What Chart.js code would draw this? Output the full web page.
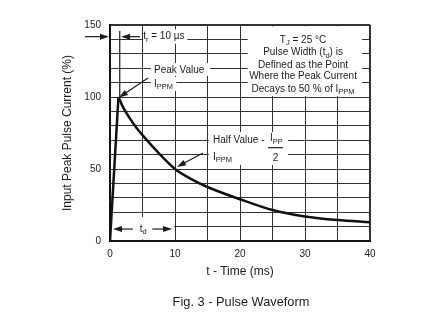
<!DOCTYPE html>
<html>
<head>
<meta charset="utf-8">
<script src="https://cdn.jsdelivr.net/npm/chart.js@4"></script>
<style>
  html, body { margin: 0; padding: 0; background: #fff; }
</style>
</head>
<body>
<canvas id="pulseChart" width="446" height="327"></canvas>
<script>
// rising edge, 0 -> peak
const riseTime = [0, 1.3];
const riseCurrent = [0, 100];
// decay after the peak (ms, % of IPPM)
const decayTime = [1.3, 2, 3, 4, 5, 7.5, 10, 12.5, 15, 20, 25, 30, 35, 40];
const decayCurrent = [100, 93, 85.5, 79, 73.5, 61, 50, 43, 37.5, 29, 21.5, 17, 14.5, 13];

const xTickLabels = [0, 10, 20, 30, 40];
const yTickLabels = [0, 50, 100, 150];

const FONT = '"Liberation Sans", Arial, sans-serif';
const INK = '#1c1c1c';

// draws text with subscripts; parts = [[text, isSub], ...]
function drawRich(ctx, parts, x, y, size, align) {
  const widths = parts.map(([t, sub]) => {
    ctx.font = (sub ? size * 0.75 : size) + 'px ' + FONT;
    return ctx.measureText(t).width;
  });
  const total = widths.reduce((a, b) => a + b, 0);
  let cx = align === 'center' ? x - total / 2 : (align === 'right' ? x - total : x);
  parts.forEach(([t, sub], i) => {
    ctx.font = (sub ? size * 0.75 : size) + 'px ' + FONT;
    ctx.fillText(t, cx, sub ? y + size * 0.32 : y);
    cx += widths[i];
  });
  return total;
}

function arrow(ctx, x1, y1, x2, y2) {
  const a = Math.atan2(y2 - y1, x2 - x1);
  const len = 9, half = 3;
  ctx.beginPath();
  ctx.moveTo(x1, y1);
  ctx.lineTo(x2 - Math.cos(a) * len * 0.8, y2 - Math.sin(a) * len * 0.8);
  ctx.stroke();
  ctx.beginPath();
  ctx.moveTo(x2, y2);
  ctx.lineTo(x2 - Math.cos(a) * len - Math.sin(a) * half, y2 - Math.sin(a) * len + Math.cos(a) * half);
  ctx.lineTo(x2 - Math.cos(a) * len + Math.sin(a) * half, y2 - Math.sin(a) * len - Math.cos(a) * half);
  ctx.closePath();
  ctx.fill();
}

// label areas that hide the grid, in data units [t0, t1, v0, v1]
const labelBoxes = [
  [21.2, 38.8, 100.7, 149],
  [5.1, 11.9, 137, 147],
  [6.3, 15.4, 114.6, 123.6],
  [6.3, 10.2, 104.2, 113.9],
  [15.2, 27.4, 52.8, 75.7],
  [0.3, 9.85, 1, 16.7]
];

const notesPlugin = {
  id: 'notes',
  beforeDatasetsDraw(chart) {
    const {ctx, scales: {x, y}} = chart;
    ctx.save();
    ctx.fillStyle = '#fff';
    labelBoxes.forEach(([t0, t1, v0, v1]) => {
      const l = x.getPixelForValue(t0), r = x.getPixelForValue(t1);
      const top = y.getPixelForValue(v1), bot = y.getPixelForValue(v0);
      ctx.fillRect(l, top, r - l, bot - top);
    });
    ctx.restore();
  },
  afterDatasetsDraw(chart) {
    const {ctx, scales: {x, y}} = chart;
    const px = t => x.getPixelForValue(t);
    const py = v => y.getPixelForValue(v);
    ctx.save();
    ctx.fillStyle = INK;
    ctx.strokeStyle = INK;
    ctx.lineWidth = 1.2;
    ctx.textBaseline = 'middle';

    // rise time marker
    arrow(ctx, px(-3.85), py(141.9), px(-0.15), py(141.9));
    ctx.beginPath();
    ctx.moveTo(px(1.5), py(145.8));
    ctx.lineTo(px(1.5), py(100));
    ctx.stroke();
    arrow(ctx, px(4.6), py(141.9), px(1.7), py(141.9));
    drawRich(ctx, [['t', false], ['r', true], [' = 10 µs', false]], px(5.1), py(141.9), 10, 'left');

    // peak value
    arrow(ctx, px(5.85), py(113.2), px(1.38), py(99.7));
    drawRich(ctx, [['Peak Value', false]], px(6.77), py(118.75), 10, 'left');
    drawRich(ctx, [['I', false], ['PPM', true]], px(6.77), py(109), 10, 'left');

    // conditions
    const cx = px(29.7);
    drawRich(ctx, [['T', false], ['J', true], [' = 25 °C', false]], cx, py(139.6), 10, 'center');
    drawRich(ctx, [['Pulse Width (t', false], ['d', true], [') is', false]], cx, py(131), 10, 'center');
    drawRich(ctx, [['Defined as the Point', false]], cx, py(122.2), 10, 'center');
    drawRich(ctx, [['Where the Peak Current', false]], cx, py(114.1), 10, 'center');
    drawRich(ctx, [['Decays to 50 % of I', false], ['PPM', true]], cx, py(105.5), 10, 'center');

    // half value
    arrow(ctx, px(14.3), py(61.1), px(10.3), py(51.4));
    drawRich(ctx, [['Half Value -', false]], px(15.85), py(70.1), 10, 'left');
    drawRich(ctx, [['I', false], ['PPM', true]], px(15.85), py(58.5), 10, 'left');
    drawRich(ctx, [['I', false], ['PP', true]], px(24.6), py(71.3), 10, 'left');
    ctx.beginPath();
    ctx.moveTo(px(24.3), py(64.8));
    ctx.lineTo(px(26.6), py(64.8));
    ctx.stroke();
    drawRich(ctx, [['2', false]], px(25.45), py(57.6), 10, 'center');

    // pulse width
    arrow(ctx, px(3.5), py(8.3), px(0.46), py(8.3));
    arrow(ctx, px(6.5), py(8.3), px(9.55), py(8.3));
    drawRich(ctx, [['t', false], ['d', true]], px(5.1), py(8.3), 10, 'center');

    // caption
    ctx.font = '12.8px ' + FONT;
    ctx.textAlign = 'center';
    ctx.fillText('Fig. 3 - Pulse Waveform', 241, 302);
    ctx.restore();
  }
};

const edge = (ctx, last) => (ctx.tick && (ctx.tick.value === last || ctx.tick.value === 0)) ? 2 : 1;

new Chart(document.getElementById('pulseChart'), {
  type: 'line',
  data: {
    datasets: [
      {
        data: riseTime.map((t, i) => ({x: t, y: riseCurrent[i]})),
        borderColor: '#111',
        borderWidth: 2.5,
        pointRadius: 0,
        tension: 0
      },
      {
        data: decayTime.map((t, i) => ({x: t, y: decayCurrent[i]})),
        borderColor: '#111',
        borderWidth: 2.5,
        pointRadius: 0,
        cubicInterpolationMode: 'monotone'
      }
    ]
  },
  options: {
    responsive: false,
    animation: false,
    events: [],
    layout: { padding: { left: 0, right: 76, top: 25, bottom: 46 } },
    plugins: { legend: { display: false }, tooltip: { enabled: false } },
    scales: {
      x: {
        type: 'linear',
        min: 0,
        max: 40,
        afterFit: s => { s.height = 40; },
        grid: { color: '#333', lineWidth: c => edge(c, 40), drawTicks: false },
        border: { color: '#111', width: 2 },
        ticks: {
          stepSize: 5,
          autoSkip: false,
          maxRotation: 0,
          padding: 7,
          color: INK,
          font: { family: FONT, size: 10 },
          callback: v => xTickLabels.includes(v) ? String(v) : ''
        },
        title: {
          display: true,
          text: 't - Time (ms)',
          color: INK,
          font: { family: FONT, size: 12 },
          padding: { top: 0, bottom: 2 }
        }
      },
      y: {
        min: 0,
        max: 150,
        afterFit: s => { s.width = 110; },
        grid: { color: '#333', lineWidth: c => edge(c, 150), drawTicks: false },
        border: { color: '#111', width: 2 },
        ticks: {
          stepSize: 10,
          autoSkip: false,
          padding: 9,
          color: INK,
          font: { family: FONT, size: 10 },
          callback: v => yTickLabels.includes(v) ? String(v) : ''
        },
        title: {
          display: true,
          text: 'Input Peak Pulse Current (%)',
          color: INK,
          font: { family: FONT, size: 12 },
          padding: { top: 60, bottom: 0 }
        }
      }
    }
  },
  plugins: [notesPlugin]
});
</script>
</body>
</html>
